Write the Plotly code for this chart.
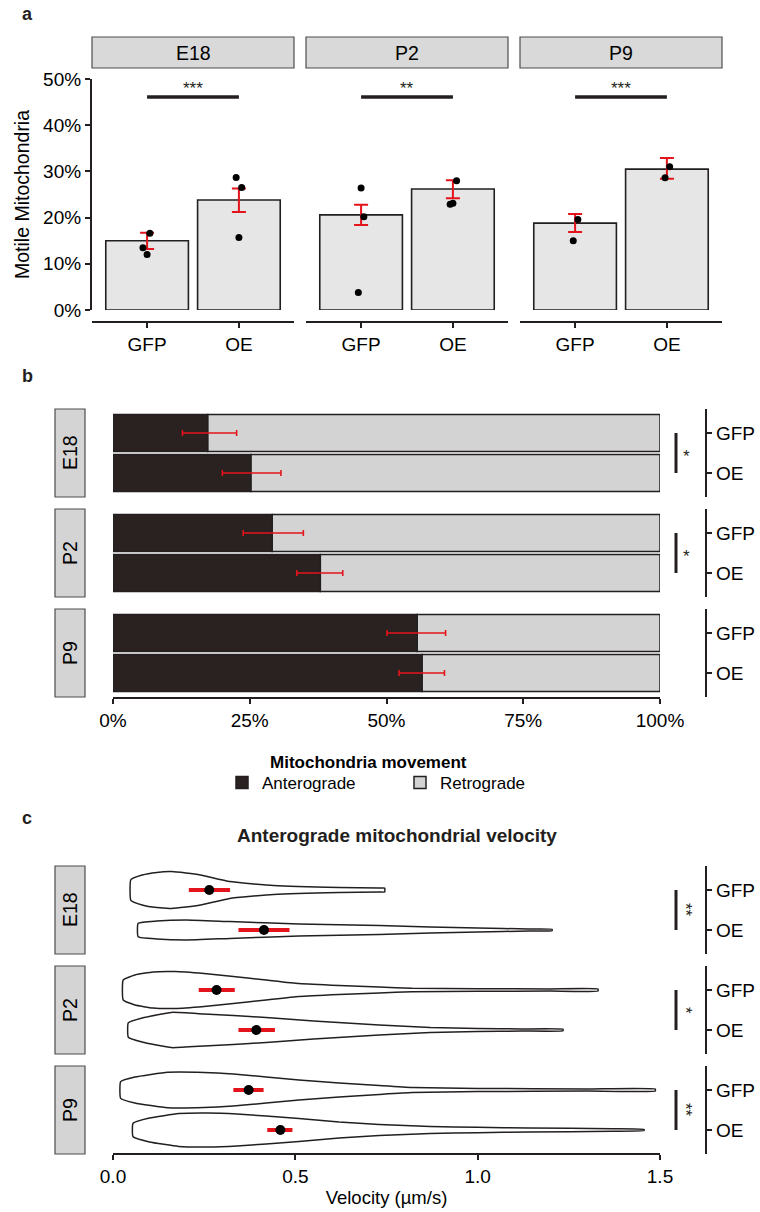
import plotly.graph_objects as go

W, H = 760, 1212
FONT = "Liberation Sans, Arial, Helvetica, sans-serif"
INK = "#231f20"
RED = "#e3141b"

stages = ["E18", "P2", "P9"]
groups = ["GFP", "OE"]

# ---- panel a: fraction of motile mitochondria, per stage [GFP, OE]
motile_mean = [[0.150, 0.238], [0.206, 0.262], [0.188, 0.305]]
motile_low = [[0.132, 0.212], [0.184, 0.242], [0.169, 0.284]]
motile_high = [[0.167, 0.263], [0.228, 0.281], [0.208, 0.329]]
motile_points = [
    [[0.120, 0.135, 0.166], [0.157, 0.265, 0.287]],
    [[0.038, 0.202, 0.264], [0.229, 0.231, 0.280]],
    [[0.150, 0.196], [0.286, 0.310]],
]
motile_jitter = [
    [[0.00, -0.045, 0.03], [0.0, 0.03, -0.03]],
    [[-0.03, 0.03, 0.0], [-0.03, 0.0, 0.04]],
    [[-0.02, 0.03], [-0.02, 0.03]],
]
sig_a = ["***", "**", "***"]
sig_a_level = 0.461

# ---- panel b: anterograde fraction of movement, per stage [GFP, OE]
antero_frac = [[0.173, 0.252], [0.291, 0.379], [0.556, 0.565]]
antero_low = [[0.127, 0.200], [0.238, 0.336], [0.501, 0.523]]
antero_high = [[0.226, 0.307], [0.348, 0.420], [0.608, 0.606]]
sig_b = ["*", "*", ""]

# ---- panel c: anterograde velocity (um/s), per stage [GFP, OE]
vel_mean = [[0.264, 0.414], [0.284, 0.393], [0.372, 0.459]]
vel_low = [[0.208, 0.344], [0.235, 0.344], [0.330, 0.423]]
vel_high = [[0.321, 0.484], [0.334, 0.444], [0.413, 0.492]]
# violin outlines: velocity knots and half-width (fraction of row spacing)
violin_vel = [
    [[0.049, 0.08, 0.12, 0.16, 0.20, 0.24, 0.32, 0.44, 0.62, 0.73, 0.745],
     [0.069, 0.12, 0.20, 0.32, 0.51, 0.73, 0.87, 1.0, 1.14, 1.204]],
    [[0.028, 0.06, 0.11, 0.17, 0.25, 0.33, 0.42, 0.51, 0.62, 0.73, 0.82, 1.0, 1.2, 1.33],
     [0.042, 0.08, 0.16, 0.25, 0.33, 0.42, 0.55, 0.73, 0.87, 1.0, 1.12, 1.234]],
    [[0.021, 0.06, 0.15, 0.25, 0.33, 0.42, 0.51, 0.62, 0.73, 0.82, 1.0, 1.3, 1.487],
     [0.055, 0.10, 0.18, 0.26, 0.34, 0.42, 0.51, 0.62, 0.73, 0.87, 1.0, 1.14, 1.37, 1.456]],
]
violin_half = [
    [[0.26, 0.375, 0.44, 0.46, 0.425, 0.375, 0.21, 0.11, 0.06, 0.05, 0.05],
     [0.17, 0.225, 0.25, 0.21, 0.15, 0.11, 0.075, 0.05, 0.025, 0.018]],
    [[0.25, 0.375, 0.45, 0.46, 0.41, 0.34, 0.25, 0.16, 0.11, 0.075, 0.045, 0.032, 0.028, 0.025],
     [0.18, 0.30, 0.44, 0.40, 0.36, 0.31, 0.225, 0.125, 0.062, 0.038, 0.025, 0.018]],
    [[0.21, 0.325, 0.445, 0.44, 0.40, 0.325, 0.25, 0.175, 0.11, 0.062, 0.038, 0.028, 0.025],
     [0.17, 0.30, 0.41, 0.425, 0.40, 0.35, 0.29, 0.20, 0.14, 0.088, 0.068, 0.05, 0.032, 0.015]],
]
sig_c = ["**", "*", "**"]


def px(x):
    return x / W


def py(y):
    return 1 - y / H


def axname(n, kind):
    return f"{kind}axis" + ("" if n == 1 else str(n))


def ref(n, kind):
    return kind + ("" if n == 1 else str(n))


axis_common = dict(
    showgrid=False, zeroline=False, linecolor=INK, linewidth=2.2,
    tickcolor=INK, tickwidth=2, ticklen=5, ticks="outside", automargin=False,
    tickfont=dict(family=FONT, size=19, color="#000"), fixedrange=True,
)

fig = go.Figure()
layout = dict(
    width=W, height=H, margin=dict(l=0, r=0, t=0, b=0, pad=0, autoexpand=False),
    autosize=False,
    paper_bgcolor="white", plot_bgcolor="rgba(0,0,0,0)",
    font=dict(family=FONT, size=19, color="#000"),
    barmode="overlay", showlegend=True,
)
shapes = []
annotations = []

# ================= panel a =================
a_xdom = [(92, 294), (306, 508), (520, 722)]
for i, st in enumerate(stages):
    n = i + 1
    x0, x1 = a_xdom[i]
    xr, yr = ref(n, "x"), ref(n, "y")
    layout[axname(n, "x")] = dict(
        axis_common, domain=[px(x0), px(x1)], range=[0.4, 2.6], anchor="free",
        position=py(322), showline=True, tickvals=[1, 2], ticktext=groups)
    yd = dict(axis_common, domain=[py(310), py(79)], range=[0, 0.5], anchor="free",
              position=px(91), showline=True, tickformat=".0%", dtick=0.1, tick0=0)
    if i == 0:
        yd["title"] = dict(text="Motile Mitochondria", standoff=7,
                           font=dict(family=FONT, size=19.5, color="#000"))
    else:
        yd["visible"] = False
    layout[axname(n, "y")] = yd

    m = motile_mean[i]
    fig.add_trace(go.Bar(
        x=[1, 2], y=m, width=0.9, cliponaxis=False,
        marker=dict(color="#e6e6e6", line=dict(color=INK, width=1.6)),
        error_y=dict(type="data", symmetric=False,
                     array=[motile_high[i][k] - m[k] for k in range(2)],
                     arrayminus=[m[k] - motile_low[i][k] for k in range(2)],
                     color=RED, thickness=2, width=7),
        xaxis=xr, yaxis=yr, showlegend=False, hoverinfo="skip"))
    for k in range(2):
        fig.add_trace(go.Scatter(
            x=[k + 1 + j for j in motile_jitter[i][k]], y=motile_points[i][k],
            mode="markers", marker=dict(color="#000", size=7), cliponaxis=False,
            xaxis=xr, yaxis=yr, showlegend=False, hoverinfo="skip"))
    shapes.append(dict(type="rect", xref="paper", yref="paper", x0=px(x0), x1=px(x1),
                       y0=py(68), y1=py(37), fillcolor="#d9d9d9",
                       line=dict(color="#4d4d4d", width=1.2), layer="below"))
    annotations.append(dict(text=st, xref="paper", yref="paper", x=px((x0 + x1) / 2),
                            y=py(52.5), showarrow=False, xanchor="center", yanchor="middle",
                            font=dict(family=FONT, size=19.5, color="#000")))
    shapes.append(dict(type="line", xref=xr, yref=yr, x0=1, x1=2, y0=sig_a_level,
                       y1=sig_a_level, line=dict(color=INK, width=3.5)))
    annotations.append(dict(text=sig_a[i], xref=xr, yref=yr, x=1.5, y=sig_a_level,
                            yanchor="bottom", xanchor="center", showarrow=False, yshift=-3,
                            font=dict(family=FONT, size=17, color=INK)))


def left_strip(top, bot, label):
    shapes.append(dict(type="rect", xref="paper", yref="paper", x0=px(55), x1=px(85),
                       y0=py(bot), y1=py(top), fillcolor="#d4d4d4",
                       line=dict(color="#4d4d4d", width=1.2), layer="below"))
    annotations.append(dict(text=label, xref="paper", yref="paper", x=px(70),
                            y=py((top + bot) / 2), textangle=-90, showarrow=False,
                            xanchor="center", yanchor="middle",
                            font=dict(family=FONT, size=19.5, color="#000")))


# ================= panel b =================
b_ydom = [(409, 497), (509, 597), (609, 697)]
for i, st in enumerate(stages):
    n = 4 + i
    top, bot = b_ydom[i]
    xr, yr = ref(n, "x"), ref(n, "y")
    layout[axname(n, "x")] = dict(
        axis_common, domain=[px(113), px(660)], range=[0, 1], anchor="free",
        position=py(698), showline=True, tickvals=[0, 0.25, 0.5, 0.75, 1],
        tickformat=".0%", visible=(i == 2))
    layout[axname(n, "y")] = dict(
        axis_common, domain=[py(bot), py(top)], type="category",
        categoryorder="array", categoryarray=groups, range=[1.6, -0.6],
        side="right", anchor="free", position=px(706), showline=True)

    a = antero_frac[i]
    retro = [1 - v for v in a]
    fig.add_trace(go.Bar(
        orientation="h", y=groups, x=retro, base=a, width=0.93, cliponaxis=False,
        marker=dict(color="#d3d3d3", line=dict(color=INK, width=1.5)),
        name="Retrograde", legendgroup="retro", legendrank=2, showlegend=(i == 0),
        xaxis=xr, yaxis=yr, hoverinfo="skip"))
    fig.add_trace(go.Bar(
        orientation="h", y=groups, x=a, width=0.93, cliponaxis=False,
        marker=dict(color="#2a2121", line=dict(color=INK, width=1.5)),
        error_x=dict(type="data", symmetric=False,
                     array=[antero_high[i][k] - a[k] for k in range(2)],
                     arrayminus=[a[k] - antero_low[i][k] for k in range(2)],
                     color=RED, thickness=1.6, width=3),
        name="Anterograde", legendgroup="antero", legendrank=1, showlegend=(i == 0),
        xaxis=xr, yaxis=yr, hoverinfo="skip"))
    left_strip(top, bot, st)
    if sig_b[i]:
        shapes.append(dict(type="line", xref="paper", yref=yr, x0=px(676), x1=px(676),
                           y0=0, y1=1, line=dict(color=INK, width=3)))
        annotations.append(dict(text=sig_b[i], xref="paper", yref=yr, x=px(686), y=0.5,
                                showarrow=False, xanchor="center", yanchor="middle",
                                yshift=-3, font=dict(family=FONT, size=17, color=INK)))

# ================= panel c =================
c_ydom = [(866, 954), (966, 1054), (1066, 1154)]
for i, st in enumerate(stages):
    n = 7 + i
    top, bot = c_ydom[i]
    xr, yr = ref(n, "x"), ref(n, "y")
    xd = dict(axis_common, domain=[px(113), px(660)], range=[0, 1.5], anchor="free",
              position=py(1154), showline=True, dtick=0.5, tick0=0, tickformat=".1f",
              visible=(i == 2))
    if i == 2:
        xd["title"] = dict(text="Velocity (µm/s)", standoff=4,
                           font=dict(family=FONT, size=18.5, color="#000"))
    layout[axname(n, "x")] = xd
    layout[axname(n, "y")] = dict(
        axis_common, domain=[py(bot), py(top)], range=[1.6, -0.6],
        tickvals=[0, 1], ticktext=groups, side="right", anchor="free",
        position=px(706), showline=True)
    for k in range(2):
        v = violin_vel[i][k]
        w = violin_half[i][k]
        xs = v + v[::-1] + [v[0]]
        ys = [k - h for h in w] + [k + h for h in w[::-1]] + [k - w[0]]
        fig.add_trace(go.Scatter(
            x=xs, y=ys, mode="lines", fill="toself", fillcolor="white",
            line=dict(color=INK, width=1.5, shape="spline", smoothing=0.4),
            xaxis=xr, yaxis=yr, showlegend=False, hoverinfo="skip"))
        mv = vel_mean[i][k]
        fig.add_trace(go.Scatter(
            x=[mv], y=[k], mode="markers", marker=dict(color="#000", size=10),
            error_x=dict(type="data", symmetric=False, array=[vel_high[i][k] - mv],
                         arrayminus=[mv - vel_low[i][k]], color=RED, thickness=4, width=0),
            xaxis=xr, yaxis=yr, showlegend=False, hoverinfo="skip"))
    left_strip(top, bot, st)
    shapes.append(dict(type="line", xref="paper", yref=yr, x0=px(676), x1=px(676),
                       y0=0, y1=1, line=dict(color=INK, width=3)))
    annotations.append(dict(text=sig_c[i], xref="paper", yref=yr, x=px(686), y=0.5,
                            showarrow=False, xanchor="center", yanchor="middle",
                            textangle=90, font=dict(family=FONT, size=17, color=INK)))

# panel labels and titles
for lab, yy in (("a", 14), ("b", 376), ("c", 818)):
    annotations.append(dict(text=f"<b>{lab}</b>", xref="paper", yref="paper", x=px(27),
                            y=py(yy), showarrow=False, xanchor="center", yanchor="middle",
                            font=dict(family=FONT, size=18, color=INK)))
annotations.append(dict(text="<b>Anterograde mitochondrial velocity</b>", xref="paper",
                        yref="paper", x=px(397), y=py(835), showarrow=False,
                        xanchor="center", yanchor="middle",
                        font=dict(family=FONT, size=19, color=INK)))
annotations.append(dict(text="<b>Mitochondria movement</b>", xref="paper",
                        yref="paper", x=px(368), y=py(762), showarrow=False,
                        xanchor="center", yanchor="middle",
                        font=dict(family=FONT, size=17, color="#000")))

layout["legend"] = dict(
    orientation="h", x=px(400), xanchor="center", y=py(783), yanchor="middle",
    font=dict(family=FONT, size=17, color="#000"), bgcolor="rgba(0,0,0,0)",
    entrywidth=133, itemwidth=30)
layout["shapes"] = shapes
layout["annotations"] = annotations
fig.update_layout(**layout)
fig.write_html(
    "out.html",
    config={"displayModeBar": False},
    post_script=("document.body.style.margin='0';"
                 "document.body.style.overflow='hidden';"
                 "document.documentElement.style.overflow='hidden';"),
)
